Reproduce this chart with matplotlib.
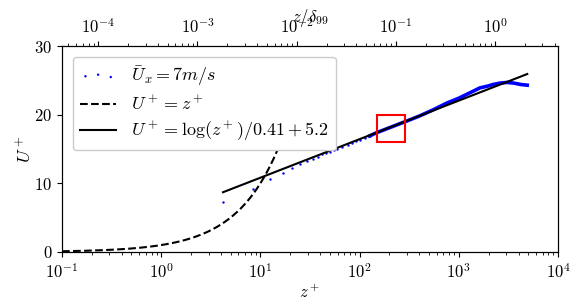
import numpy as np
import matplotlib
matplotlib.use("Agg")
import matplotlib.pyplot as plt
from matplotlib.patches import Rectangle

plt.rcParams['mathtext.fontset'] = 'cm'
plt.rcParams['font.family'] = ['cmr10', 'DejaVu Serif']
plt.rcParams['axes.formatter.use_mathtext'] = True
plt.rcParams['font.size'] = 12

# measured profile, sparse near-wall points (z+, U+)
zp_pts = [4.2, 8.4, 12.6, 16.8, 21.0, 25.2, 29.4, 33.6, 37.8, 42.0, 46.2,
          50.4, 54.6, 58.8, 67.2, 75.6, 84.0, 92.4, 100.8, 113.4, 126.0]
U_pts = [7.3, 9.2, 10.6, 11.5, 12.2, 12.8, 13.3, 13.6, 13.9, 14.2, 14.4,
         14.6, 14.8, 15.0, 15.3, 15.6, 15.9, 16.1, 16.3, 16.6, 16.9]

# outer part, points so dense they read as a line
zp_line = [126, 150, 200, 290, 400, 550, 760, 1000, 1300, 1630, 2000,
           2210, 2600, 3060, 3600, 4200, 4900]
U_line = [16.9, 17.4, 18.1, 19.0, 19.8, 20.7, 21.7, 22.4, 23.2, 23.9, 24.2,
          24.4, 24.6, 24.7, 24.6, 24.4, 24.3]

# boundary layer thickness in wall units (for the top axis)
delta_plus = 2320

# ranges of the reference laws
visc_range = [0.1, 15]
log_range = [4.2, 4900]

# highlighted box: z+ from, z+ to, U+ from, U+ to
box = [150, 290, 16, 20]

fig = plt.figure(figsize=(5.81, 3.05), dpi=100)
ax = fig.add_axes([0.1067, 0.174, 0.8537, 0.675])

ax.scatter(zp_pts, U_pts, s=3, color='b', linewidths=0, label=r'$\bar{U}_x = 7m/s$')
ax.plot(zp_line, U_line, color='b', lw=2.6)

zv = np.logspace(np.log10(visc_range[0]), np.log10(visc_range[1]), 200)
ax.plot(zv, zv, 'k--', lw=1.5, label=r'$U^+ = z^+$')

zl = np.logspace(np.log10(log_range[0]), np.log10(log_range[1]), 200)
ax.plot(zl, np.log(zl) / 0.41 + 5.2, 'k-', lw=1.5,
        label=r'$U^+ = \log(z^+)/0.41 + 5.2$')

ax.add_patch(Rectangle((box[0], box[2]), box[1] - box[0], box[3] - box[2],
                       fill=False, edgecolor='red', lw=1.5, zorder=5))

ax.set_xscale('log')
ax.set_xlim(0.1, 1e4)
ax.set_ylim(0, 30)
ax.set_yticks([0, 10, 20, 30])
ax.set_xlabel(r'$z^+$', labelpad=2)
ax.set_ylabel(r'$U^+$', labelpad=0, fontsize=13)

ax2 = ax.twiny()
ax2.set_xscale('log')
ax2.set_xlim(0.1 / delta_plus, 1e4 / delta_plus)
ax2.set_xlabel(r'$z/\delta_{99}$', labelpad=-3)

ax.legend(loc='upper left', scatterpoints=3, fontsize=13, framealpha=1,
          labelspacing=0.35, borderaxespad=0.6)

plt.savefig("out.png", dpi=100)
